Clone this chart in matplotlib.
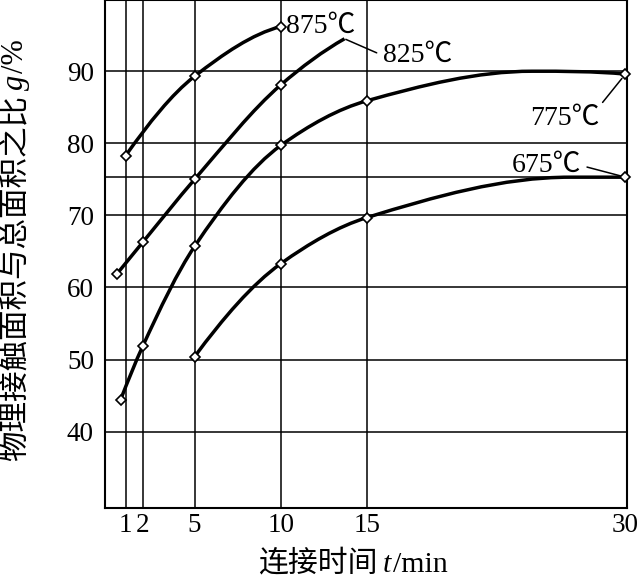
# -*- coding: utf-8 -*-
"""
Contact area ratio vs. joining time, 4 temperatures
smooth curves through the measured points (white diamonds)
"""
import numpy as np
import matplotlib
matplotlib.use("Agg")
import matplotlib.pyplot as plt
from matplotlib.path import Path
from matplotlib.patches import PathPatch

plt.rcParams['font.family'] = ['Liberation Serif', 'Noto Sans CJK SC']

# ---- values ----
# joining time t/min and ratio (%) at the measured points
t_875 = [1, 5, 10]
v_875 = [78.3, 89.3, 96.2]
t_825 = [0.5, 2, 5, 10]
v_825 = [61.9, 66.3, 75.0, 88.1]
t_775 = [0.7, 2, 5, 10, 15, 30]
v_775 = [44.4, 51.9, 65.7, 79.7, 85.9, 89.6]
t_675 = [5, 10, 15, 30]
v_675 = [50.4, 63.3, 69.7, 75.3]

# points on the drawn curves that carry no marker
tail_t_825 = [13.7]
tail_v_825 = [94.5]
tail_t_775 = [24.6]
tail_v_775 = [90.0]
tail_t_675 = [26.8]
tail_v_675 = [75.3]

labels = ['875℃', '825℃', '775℃', '675℃']
x_ticks = [1, 2, 5, 10, 15, 30]
y_ticks = [40, 50, 60, 70, 80, 90]
extra_hline = [75.3]


def pchip_slopes(x, y):
    # monotone slopes (Fritsch-Carlson), used only for the bezier handles
    x = np.asarray(x, float)
    y = np.asarray(y, float)
    h = np.diff(x)
    d = np.diff(y) / h
    m = np.zeros_like(x)
    for i in range(1, len(x) - 1):
        if d[i - 1] * d[i] <= 0:
            m[i] = 0.0
        else:
            w1 = 2 * h[i] + h[i - 1]
            w2 = h[i] + 2 * h[i - 1]
            m[i] = (w1 + w2) / (w1 / d[i - 1] + w2 / d[i])

    def end_slope(h0, h1, d0, d1):
        s = ((2 * h0 + h1) * d0 - h0 * d1) / (h0 + h1)
        if np.sign(s) != np.sign(d0):
            s = 0.0
        elif np.sign(d0) != np.sign(d1) and abs(s) > abs(3 * d0):
            s = 3 * d0
        return s

    if len(x) > 2:
        m[0] = end_slope(h[0], h[1], d[0], d[1])
        m[-1] = end_slope(h[-1], h[-2], d[-1], d[-2])
    else:
        m[:] = d[0]
    return m


def smooth_path(x, y):
    x = np.asarray(x, float)
    y = np.asarray(y, float)
    m = pchip_slopes(x, y)
    verts = [(x[0], y[0])]
    codes = [Path.MOVETO]
    for i in range(len(x) - 1):
        h = x[i + 1] - x[i]
        verts += [(x[i] + h / 3, y[i] + m[i] * h / 3),
                  (x[i + 1] - h / 3, y[i + 1] - m[i + 1] * h / 3),
                  (x[i + 1], y[i + 1])]
        codes += [Path.CURVE4] * 3
    return Path(verts, codes)


def merge(t, v, tt, tv):
    xs = list(t) + list(tt)
    ys = list(v) + list(tv)
    order = np.argsort(xs)
    return np.array(xs)[order], np.array(ys)[order]


fig = plt.figure(figsize=(6.43, 5.79), dpi=100)
ax = fig.add_axes([0.1633, 0.1226, 0.812, 0.877])

ax.set_xlim(-0.2, 30.1)
ax.set_ylim(29.4, 99.85)

# grid
for xv in x_ticks[:-1]:
    ax.axvline(xv, color='black', lw=1.1, zorder=1)
for yv in y_ticks + extra_hline:
    ax.axhline(yv, color='black', lw=1.1, zorder=1)

series = [(t_875, v_875, [], []),
          (t_825, v_825, tail_t_825, tail_v_825),
          (t_775, v_775, tail_t_775, tail_v_775),
          (t_675, v_675, tail_t_675, tail_v_675)]

curve_ends = []
for t, v, tt, tv in series:
    cx, cy = merge(t, v, tt, tv)
    ax.add_patch(PathPatch(smooth_path(cx, cy), fc='none', ec='black',
                           lw=2.5, zorder=3, clip_on=False))
    ax.plot(t, v, ls='none', marker='D', ms=4.8, mfc='white', mec='black',
            mew=1.2, zorder=4, clip_on=False)
    curve_ends.append((cx[-1], cy[-1]))

# curve labels
ax.text(10.3, 95.3, labels[0], fontsize=20, ha='left', va='baseline', zorder=5)
ax.annotate(labels[1], xy=curve_ends[1], xytext=(15.95, 91.25),
            fontsize=20, ha='left', va='baseline', zorder=5,
            arrowprops=dict(arrowstyle='-', lw=1.1, color='black',
                            relpos=(0, 0.5), shrinkA=3, shrinkB=1))
ax.annotate(labels[2], xy=curve_ends[2], xytext=(24.47, 82.5),
            fontsize=20, ha='left', va='baseline', zorder=5,
            arrowprops=dict(arrowstyle='-', lw=1.1, color='black',
                            relpos=(1, 1), shrinkA=1, shrinkB=4))
ax.annotate(labels[3], xy=curve_ends[3], xytext=(23.43, 76.0),
            fontsize=20, ha='left', va='baseline', zorder=5,
            arrowprops=dict(arrowstyle='-', lw=1.1, color='black',
                            relpos=(1, 0.5), shrinkA=2, shrinkB=4))

ax.set_xticks(x_ticks)
ax.set_xticklabels([str(x) for x in x_ticks])
ax.set_yticks(y_ticks)
ax.set_yticklabels([str(y) for y in y_ticks])
ax.tick_params(axis='both', length=0, labelsize=19.5)
ax.tick_params(axis='x', pad=3.5)
ax.tick_params(axis='y', pad=8)
for sp in ax.spines.values():
    sp.set_linewidth(1.5)
    sp.set_zorder(2)

# x label: chinese + italic t + /min
xl1 = fig.text(258 / 643, 0.002, "连接时间", fontsize=21.5, ha='left', va='bottom')
xl2 = ax.annotate("t", xy=(1, 0), xycoords=xl1, xytext=(4, 0),
                  textcoords='offset points', fontsize=21.5, style='italic',
                  ha='left', va='bottom')
ax.annotate("/min", xy=(1, 0), xycoords=xl2, xytext=(1, 0),
            textcoords='offset points', fontsize=21.5, ha='left', va='bottom')

# y label, rotated, same trick
yl1 = fig.text(0.002, 0.203, "物理接触面积与总面积之比", fontsize=22,
               rotation=90, ha='left', va='bottom')
yl2 = ax.annotate("g", xy=(0, 1), xycoords=yl1, xytext=(0, 4),
                  textcoords='offset points', fontsize=22, style='italic',
                  rotation=90, ha='left', va='bottom')
ax.annotate("/%", xy=(0, 1), xycoords=yl2, xytext=(0, 1),
            textcoords='offset points', fontsize=22, rotation=90,
            ha='left', va='bottom')

fig.savefig('out.png', dpi=100)
